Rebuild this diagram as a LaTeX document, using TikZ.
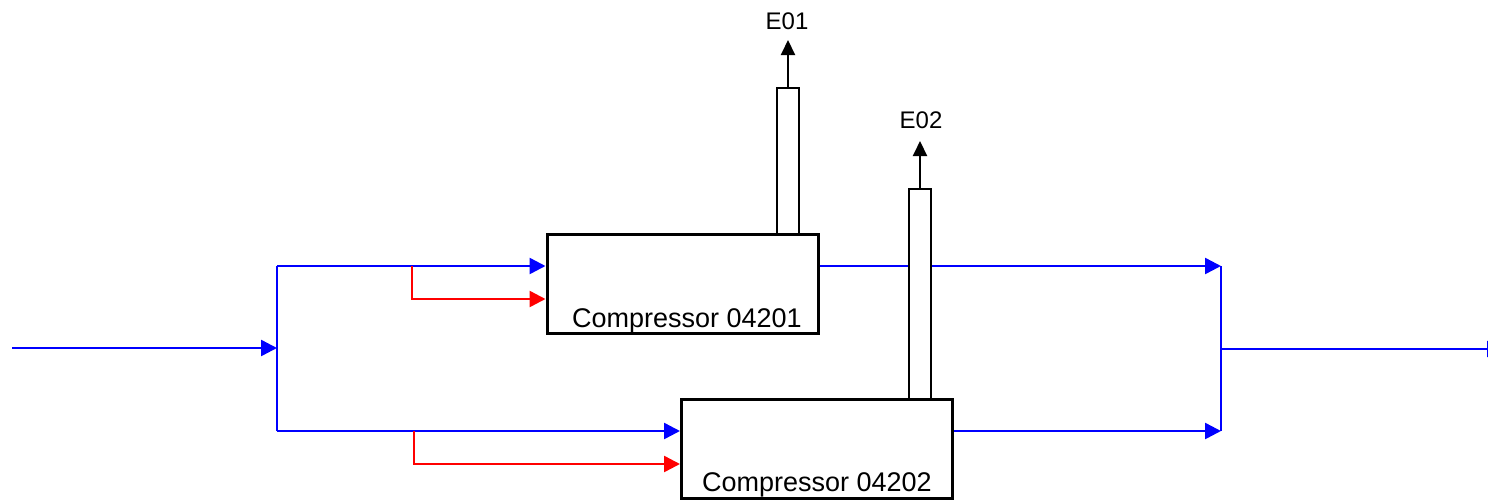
\documentclass[tikz,border=0pt]{standalone}
\usepackage{fontspec}
\setmainfont{Liberation Sans}
\usetikzlibrary{arrows.meta}
\begin{document}
\begin{tikzpicture}[x=1pt,y=-1pt,
  flow/.style={draw={rgb,255:red,0;green,0;blue,255}, line width=2.5pt},
  fuel/.style={draw={rgb,255:red,255;green,0;blue,0}, line width=2.5pt},
  tipb/.style={-{Triangle[length=16pt,width=16pt]}},
  comp/.style={draw=black, fill=white, line width=3pt, minimum width=271pt, minimum height=99pt, inner sep=0pt},
  stack/.style={draw=black, fill=white, line width=2pt, minimum width=22pt, inner sep=0pt},
  lbl/.style={font=\fontsize{27}{31}\selectfont, anchor=base, inner sep=0pt},
  elbl/.style={font=\fontsize{24}{28}\selectfont, anchor=base, inner sep=0pt}
]
\useasboundingbox (0,0) rectangle (1488,501);
% boxes
\node[comp] (c1) at (682.5,283.5) {};
\node[comp] (c2) at (817,448.5) {};
\node[lbl] (t1) at (687,327) {Compressor 04201};
\node[lbl] (t2) at (817,491) {Compressor 04202};
% coordinates
\coordinate (in) at (12,348);
\coordinate (sj) at (277,348);
\coordinate (st) at (277,266);
\coordinate (sb) at (277,431);
\coordinate (r1) at (412,266);
\coordinate (r1b) at (412,299);
\coordinate (r2) at (414,431);
\coordinate (r2b) at (414,464);
\coordinate (jt) at (1221,266);
\coordinate (jb) at (1221,431);
\coordinate (jm) at (1221,349);
\coordinate (out) at (1503,349);
% input and split
\draw[flow,tipb] (in) -- (sj);
\draw[flow] (st) -- (sb);
\draw[flow,tipb] (st) -- (c1.west |- st);
\draw[flow,tipb] (sb) -- (c2.west |- sb);
\draw[fuel,tipb] (r1) -- (r1b) -- (c1.west |- r1b);
\draw[fuel,tipb] (r2) -- (r2b) -- (c2.west |- r2b);
% outputs
\draw[flow,tipb] (c1.east |- jt) -- (jt);
\draw[flow,tipb] (c2.east |- jb) -- (jb);
\draw[flow] (jt) -- (jb);
\draw[flow,tipb] (jm) -- (out);
% stacks
\node[stack, minimum height=146pt] (s1) at (788,161) {};
\node[stack, minimum height=210pt] (s2) at (920,294) {};
\coordinate (e1) at (788,40);
\coordinate (e2) at (920,141);
\draw[black, line width=2pt, -{Triangle[length=15pt,width=14pt]}] (s1.north) -- (e1);
\draw[black, line width=2pt, -{Triangle[length=15pt,width=14pt]}] (s2.north) -- (e2);
\node[elbl] (l1) at (787,29) {E01};
\node[elbl] (l2) at (921,128) {E02};
\end{tikzpicture}
\end{document}
